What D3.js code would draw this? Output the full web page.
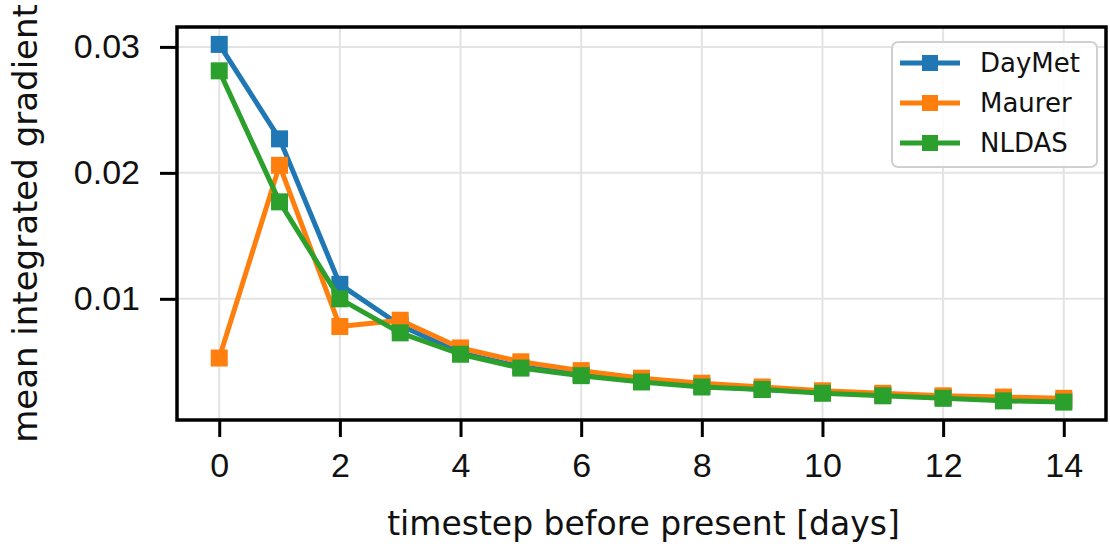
<!DOCTYPE html>
<html><head><meta charset="utf-8">
<script src="https://cdn.jsdelivr.net/npm/d3@7"></script>
<style>html,body{margin:0;padding:0;background:#fff;}svg{display:block;font-family:"DejaVu Sans",sans-serif;}</style>
</head><body>
<svg id="chart" width="1110" height="548"></svg>
<script>
const timesteps = [0,1,2,3,4,5,6,7,8,9,10,11,12,13,14];
const daymet = [0.0302,0.0227,0.01115,0.0079,0.0057,0.0046,0.0040,0.0035,0.0031,0.0028,0.0026,0.0024,0.0022,0.0020,0.0019];
const maurer = [0.0053,0.0206,0.0078,0.0083,0.0061,0.0050,0.0043,0.0037,0.0033,0.0030,0.0027,0.0025,0.0023,0.0022,0.0021];
const nldas  = [0.0281,0.0177,0.0100,0.0073,0.0056,0.0045,0.0039,0.0034,0.0030,0.0028,0.0025,0.0023,0.0021,0.0019,0.0018];
const seriesNames = ["DayMet","Maurer","NLDAS"];
const xTicks = [0,2,4,6,8,10,12,14];
const yTicks = [0.01,0.02,0.03];
const xLabel = "timestep before present [days]";
const yLabel = "mean integrated gradient";

const colors = ["#1f77b4","#ff7f0e","#2ca02c"];
const series = [daymet, maurer, nldas];

const svg = d3.select("#chart");
const L = 177, R = 1106, T = 27, B = 420;
const x = d3.scaleLinear().domain([-0.7, 14.7]).range([L, R]);
const y = d3.scaleLinear().domain([0.00038, 0.03158]).range([B, T]);

// grid
const g = svg.append("g");
g.selectAll(".vg").data(xTicks).enter().append("line")
  .attr("x1", d => x(d)).attr("x2", d => x(d)).attr("y1", T).attr("y2", B)
  .attr("stroke", "#e3e3e3").attr("stroke-width", 2);
g.selectAll(".hg").data(yTicks).enter().append("line")
  .attr("y1", d => y(d)).attr("y2", d => y(d)).attr("x1", L).attr("x2", R)
  .attr("stroke", "#e3e3e3").attr("stroke-width", 2);

// lines
const line = d3.line().x((d, i) => x(timesteps[i])).y(d => y(d));
series.forEach((s, k) => {
  svg.append("path").datum(s).attr("d", line)
    .attr("fill", "none").attr("stroke", colors[k]).attr("stroke-width", 5)
    .attr("stroke-linejoin", "round");
  svg.selectAll(".m" + k).data(s).enter().append("rect")
    .attr("x", (d, i) => x(timesteps[i]) - 8.5).attr("y", d => y(d) - 8.5)
    .attr("width", 17).attr("height", 17).attr("fill", colors[k]);
});

// axes
const xAxis = d3.axisBottom(x).tickValues(xTicks).tickSize(17).tickPadding(16).tickFormat(d3.format("d"));
const yAxis = d3.axisLeft(y).tickValues(yTicks).tickSize(17).tickPadding(20).tickFormat(d3.format(".2f"));
const xa = svg.append("g").attr("transform", `translate(0,${B})`).call(xAxis);
const ya = svg.append("g").attr("transform", `translate(${L},0)`).call(yAxis);
[xa, ya].forEach(a => {
  a.select(".domain").remove();
  a.selectAll(".tick line").attr("stroke", "#000").attr("stroke-width", 3);
  a.selectAll(".tick text").attr("fill", "#111").style("font-size", "34px");
});

// frame
svg.append("rect").attr("x", L).attr("y", T).attr("width", R - L).attr("height", B - T)
  .attr("fill", "none").attr("stroke", "#000").attr("stroke-width", 3.5);

// labels
svg.append("text").attr("x", (L + R) / 2 + 2).attr("y", 535).attr("text-anchor", "middle")
  .style("font-size", "33px").attr("fill", "#111").text(xLabel);
svg.append("text").attr("transform", `translate(37,${(T + B) / 2}) rotate(-90)`)
  .attr("text-anchor", "middle").style("font-size", "34px").attr("fill", "#111").text(yLabel);

// legend
const lg = svg.append("g");
lg.append("rect").attr("x", 892).attr("y", 42).attr("width", 205).attr("height", 125)
  .attr("rx", 6).attr("fill", "rgba(255,255,255,0.85)").attr("stroke", "#d0d0d0").attr("stroke-width", 2);
seriesNames.forEach((n, k) => {
  const yy = 63 + k * 40;
  lg.append("line").attr("x1", 900).attr("x2", 960).attr("y1", yy).attr("y2", yy)
    .attr("stroke", colors[k]).attr("stroke-width", 5);
  lg.append("rect").attr("x", 922).attr("y", yy - 8).attr("width", 16).attr("height", 16).attr("fill", colors[k]);
  lg.append("text").attr("x", 980).attr("y", yy).attr("dy", "0.36em")
    .style("font-size", "26px").attr("fill", "#111").text(n);
});
</script>
</body></html>
